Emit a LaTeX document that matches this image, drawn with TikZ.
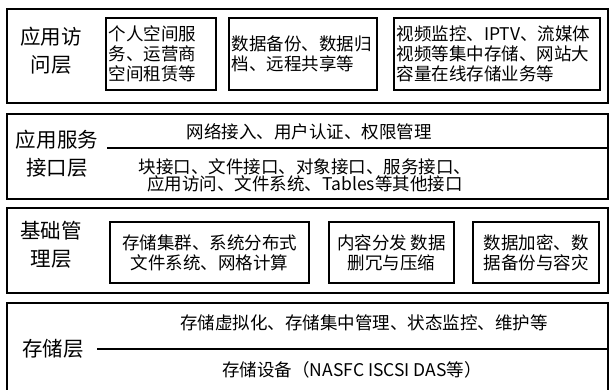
\documentclass[tikz,border=0pt]{standalone}
\usepackage{fontspec}
\newfontfamily\cjk{Noto Sans CJK SC}
\begin{document}
\begin{tikzpicture}[x=1pt,y=-1pt,
  layer/.style={draw, line width=1.5pt, inner sep=0pt, anchor=north west},
  sbox/.style={draw, line width=1.5pt, inner xsep=2pt, inner ysep=0pt, font=\cjk\fontsize{17.5}{20}\selectfont},
  lbl/.style={font=\cjk\fontsize{20.5}{28}\selectfont, align=center, inner sep=0pt},
  txt/.style={font=\cjk\fontsize{17.5}{17}\selectfont, inner sep=0pt, align=center},
  divider/.style={line width=1.5pt}
]
\useasboundingbox (0,0) rectangle (609,389);
\clip (0,0) rectangle (609,389);
\fill[white] (0,0) rectangle (609,389);

% layer 1
\node[layer, minimum width=601pt, minimum height=94pt] (L1) at (6,8) {};
\node[lbl] (l1) at (51,51) {应用访\\问层};
\node[sbox, minimum width=110pt, minimum height=72pt, text width=105pt, align=left] (b11) at (161,54) {个人空间服\\务、运营商\\空间租赁等};
\node[sbox, minimum width=148pt, minimum height=72pt, text width=143pt, align=left] (b12) at (303,54) {数据备份、数据归\\档、远程共享等};
\node[sbox, minimum width=206pt, minimum height=72pt, text width=201pt, align=left] (b13) at (497,54) {视频监控、IPTV、流媒体\\视频等集中存储、网站大\\容量在线存储业务等};

% layer 2
\node[layer, minimum width=601pt, minimum height=85pt] (L2) at (6,113) {};
\node[lbl] (l2) at (57,154) {应用服务\\接口层};
\coordinate (d2a) at (107,148);
\coordinate (d2b) at (607,148);
\draw[divider] (d2a) -- (d2b);
\node[txt] (t21) at (309,132) {网络接入、用户认证、权限管理};
\node[txt] (t22) at (305,175) {块接口、文件接口、对象接口、服务接口、\\应用访问、文件系统、Tables等其他接口};

% layer 3
\node[layer, minimum width=601pt, minimum height=85pt] (L3) at (6,207) {};
\node[lbl] (l3) at (51,245) {基础管\\理层};
\node[sbox, minimum width=199pt, minimum height=61pt, align=center] (b31) at (209.5,252.5) {存储集群、系统分布式\\文件系统、网格计算};
\node[sbox, minimum width=125pt, minimum height=61pt, align=center] (b32) at (391.5,252.5) {内容分发 数据\\删冗与压缩};
\node[sbox, minimum width=126pt, minimum height=61pt, align=center] (b33) at (536,252.5) {数据加密、数\\据备份与容灾};

% layer 4
\node[layer, minimum width=601pt, minimum height=110pt] (L4) at (6,302) {};
\node[lbl] (l4) at (53,349) {存储层};
\coordinate (d4a) at (97,349);
\coordinate (d4b) at (607,349);
\draw[divider] (d4a) -- (d4b);
\node[txt] (t41) at (364,323) {存储虚拟化、存储集中管理、状态监控、维护等};
\node[txt] (t42) at (352,370) {存储设备（NASFC ISCSI DAS等）};
\end{tikzpicture}
\end{document}
